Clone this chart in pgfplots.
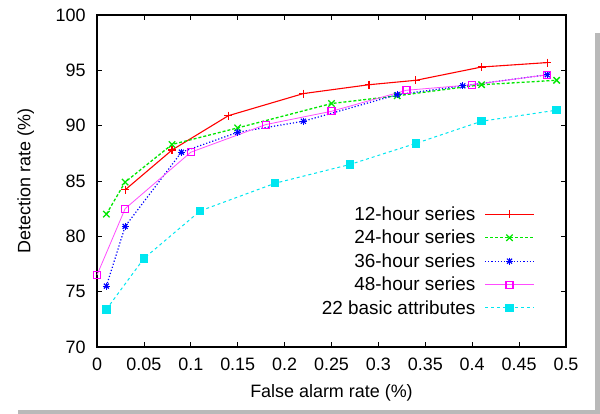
\documentclass[border=0pt]{standalone}
\usepackage{fontspec}
\setmainfont{Liberation Sans}
\usepackage{pgfplots}
\pgfplotsset{compat=1.18}

\definecolor{gpred}{RGB}{255,0,0}
\definecolor{gpgreen}{RGB}{0,230,0}
\definecolor{gpblue}{RGB}{0,0,255}
\definecolor{gpmagenta}{RGB}{255,0,255}
\definecolor{gpcyan}{RGB}{0,230,240}

% gnuplot-style point type 3: plus and cross together
\pgfdeclareplotmark{pluscross}{\pgfuseplotmark{+}\pgfuseplotmark{x}}

\begin{document}
\begin{tikzpicture}
% page frame and the grey drop shadow of the original figure
\path (0bp,0bp) rectangle (600bp,414bp);
\fill[gray!55] (595bp,4bp) rectangle (600bp,381bp);
\fill[gray!55] (18bp,0.5bp) rectangle (600bp,4bp);
\begin{axis}[
    at={(97bp,67bp)}, anchor=south west,
    scale only axis, width=469bp, height=332bp,
    xmin=0, xmax=0.5, ymin=70, ymax=100,
    clip=false,
    xtick={0,0.05,...,0.5},
    xticklabels={0,0.05,0.1,0.15,0.2,0.25,0.3,0.35,0.4,0.45,0.5},
    ytick={70,75,...,100},
    yticklabels={70,75,80,85,90,95,100},
    tick align=inside, xtick pos=both, ytick pos=both,
    major tick length=5bp,
    tick style={black, line width=0.8bp},
    axis line style={black, line width=1.2bp},
    tick label style={font=\fontsize{18}{21}\selectfont},
    xticklabel style={yshift=-7bp},
    yticklabel style={xshift=-8bp},
    xlabel={False alarm rate (\%)},
    ylabel={Detection rate (\%)},
    xlabel style={at={(axis description cs:0.5,-0.1386)}, anchor=center, font=\fontsize{18}{21}\selectfont},
    ylabel style={at={(axis description cs:-0.152,0.5)}, anchor=center, font=\fontsize{18}{21}\selectfont},
    legend plot pos=right,
    legend cell align=right,
    legend image code/.code={\draw[mark repeat=2,mark phase=2] plot coordinates {(0bp,0bp) (24.5bp,0bp) (49bp,0bp)};},
    legend style={font=\fontsize{19}{22}\selectfont, draw=none, fill=none,
        at={(axis description cs:0.94,0.435)}, anchor=north east, row sep=4.2bp,
        /tikz/every odd column/.append style={column sep=7bp}},
]
\addplot[gpred, line width=1.1bp, mark=+, mark size=4bp, mark options={solid}]
    coordinates {(0.03,84.2) (0.08,87.8) (0.14,90.9) (0.22,92.9) (0.29,93.7) (0.34,94.1) (0.41,95.3) (0.48,95.7)};
\addlegendentry{12-hour series}
\addplot[gpgreen, line width=1.3bp, densely dashed, mark=x, mark size=4.5bp, mark options={solid}]
    coordinates {(0.01,82.0) (0.03,84.9) (0.08,88.3) (0.15,89.8) (0.25,92.0) (0.32,92.7) (0.41,93.7) (0.49,94.1)};
\addlegendentry{24-hour series}
\addplot[gpblue, line width=1.2bp, dotted, mark=pluscross, mark size=3.5bp, mark options={solid}]
    coordinates {(0.01,75.5) (0.03,80.9) (0.09,87.6) (0.15,89.4) (0.22,90.4) (0.32,92.8) (0.39,93.6) (0.48,94.6)};
\addlegendentry{36-hour series}
\addplot[gpmagenta!70, line width=0.8bp, mark=square, mark size=3.5bp, mark options={solid, gpmagenta, line width=1.1bp}]
    coordinates {(0,76.5) (0.03,82.5) (0.10,87.6) (0.18,90.1) (0.25,91.3) (0.33,93.2) (0.40,93.7) (0.48,94.6)};
\addlegendentry{48-hour series}
\addplot[gpcyan, line width=1bp, dashed, mark=square*, mark size=3.7bp, mark options={solid, fill=gpcyan}]
    coordinates {(0.01,73.4) (0.05,78.0) (0.11,82.3) (0.19,84.8) (0.27,86.5) (0.34,88.4) (0.41,90.4) (0.49,91.4)};
\addlegendentry{22 basic attributes}
\end{axis}
\end{tikzpicture}
\end{document}
